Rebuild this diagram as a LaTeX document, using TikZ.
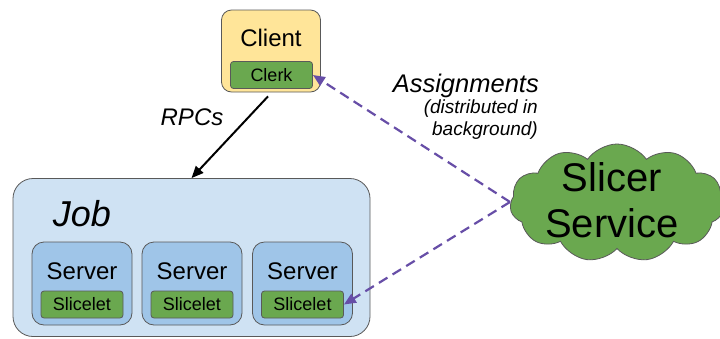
\documentclass[tikz,border=0pt]{standalone}
\usepackage{fontspec}
\setmainfont{Liberation Sans}
\usetikzlibrary{shapes.symbols,arrows.meta}
\definecolor{clientfill}{HTML}{FFE599}
\definecolor{greenfill}{HTML}{6AA84F}
\definecolor{jobfill}{HTML}{CFE2F3}
\definecolor{serverfill}{HTML}{9FC5E8}
\definecolor{arrowpurple}{HTML}{674EA7}
\definecolor{edge}{HTML}{595959}
\newcommand{\fs}[1]{\fontsize{#1}{#1}\selectfont}
\begin{document}
\begin{tikzpicture}[x=1pt,y=-1pt,
  box/.style={draw=edge, line width=0.8pt, inner sep=0pt},
  clientbox/.style={box, fill=clientfill, rounded corners=10pt, minimum width=99pt, minimum height=82pt},
  jobbox/.style={box, fill=jobfill, rounded corners=20pt, minimum width=357pt, minimum height=158pt},
  serverbox/.style={box, fill=serverfill, rounded corners=12pt, minimum width=100pt, minimum height=83pt},
  smallbox/.style={box, fill=greenfill, rounded corners=3pt, minimum width=82pt, minimum height=27pt, font=\fs{18}},
  lbl/.style={inner sep=0pt, text=black},
  rpc/.style={draw=black, line width=2pt, -{Triangle[length=12pt,width=10pt]}},
  assign/.style={draw=arrowpurple, line width=2.2pt, dash pattern=on 10pt off 6pt, -{Triangle[length=12pt,width=10pt]}}
]
\useasboundingbox (0,0) rectangle (720,338);

% Client
\node[clientbox] (client) at (271,51) {};
\node[lbl, font=\fs{24}] (clienttxt) at (271,38) {Client};
\node[smallbox] (clerk) at (271.5,75) {Clerk};

% Job
\node[jobbox] (job) at (191.5,257.5) {};
\node[lbl, font=\fs{36}\itshape] (jobtxt) at (82,214) {Job};

% Servers
\foreach \i/\x in {1/82,2/192,3/302.5}{
  \node[serverbox] (server\i) at (\x,283.5) {};
  \node[lbl, font=\fs{24}] (servertxt\i) at (\x,271) {Server};
  \node[smallbox] (slicelet\i) at (\x,304.5) {Slicelet};
}

% Slicer service cloud
\node[cloud, draw=edge, line width=0.8pt, fill=greenfill, cloud puffs=11, cloud puff arc=110, aspect=1.9, minimum width=214pt, minimum height=118pt, inner sep=0pt] (slicer) at (617,203) {};
\node[lbl, font=\fs{40}, align=center] (slicertxt) at (612,200) {Slicer\\[6pt]Service};

% Labels
\node[lbl, font=\fs{24}\itshape] (rpcs) at (192,117) {RPCs};
\node[lbl, font=\fs{25.5}\itshape, anchor=east] (assigntxt) at (539,86) {Assignments};
\node[lbl, font=\fs{19}\itshape, anchor=east, align=right] (assignsub) at (538,120) {(distributed in\\[3pt]background)};

% Connectors
\coordinate (src) at (510,202);
\draw[rpc] ([xshift=-3pt,yshift=-4pt]client.south) -- (job.north);
\draw[assign] (src) -- (clerk.east);
\draw[assign] (src) -- (slicelet3.east);
\end{tikzpicture}
\end{document}
